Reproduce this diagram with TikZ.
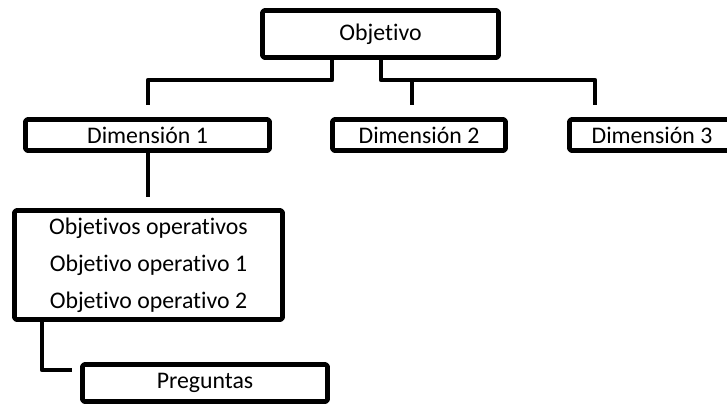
\documentclass[tikz,border=0pt]{standalone}
\usepackage{fontspec}
\setmainfont{Carlito}[Ligatures=NoCommon]
\usetikzlibrary{positioning}

\begin{document}
\begin{tikzpicture}[x=0.5pt,y=-0.5pt,line width=2.3pt,line join=round,
  box node/.style={rectangle,draw,rounded corners=0.8pt,inner sep=0pt,font=\fontsize{11.9}{18.5}\selectfont,align=center}]
  \clip (0,0) rectangle (727,404);
  \node[box node,minimum width=118pt,minimum height=23.5pt] (obj) at (380.5,34) {Objetivo};
  \node[box node,minimum width=122pt,minimum height=15.5pt] (dim1) at (147.5,135) {Dimensión 1};
  \node[box node,minimum width=86.5pt,minimum height=15.5pt] (dim2) at (419,135) {Dimensión 2};
  \node[box node,minimum width=82.5pt,minimum height=15.5pt] (dim3) at (652,135) {Dimensión 3};
  \node[box node,minimum width=134pt,minimum height=54.5pt] (oper) at (148.5,265) {Objetivos operativos\\Objetivo operativo 1\\Objetivo operativo 2};
  \node[box node,minimum width=122.5pt,minimum height=18.5pt] (preg) at (205,383) {Preguntas};

  \coordinate (bus) at (0,80);
  \coordinate (objl) at (332,0);
  \coordinate (objr) at (381,0);
  \coordinate (d1top) at (148,105);
  \coordinate (d2top) at (412,105);
  \coordinate (d3top) at (595,105);
  \coordinate (opend) at (148,197);
  \coordinate (opl) at (42,0);
  \coordinate (pregl) at (72,370);

\path[draw]
  (obj.south -| objl) |- (bus -| d1top) -- (d1top)
  (obj.south -| objr) |- (bus -| d3top) -- (d3top)
  (bus -| d2top) -- (d2top)
  (dim1.south -| opend) -- (opend)
  (oper.south -| opl) |- (pregl)
;
\end{tikzpicture}
\end{document}
